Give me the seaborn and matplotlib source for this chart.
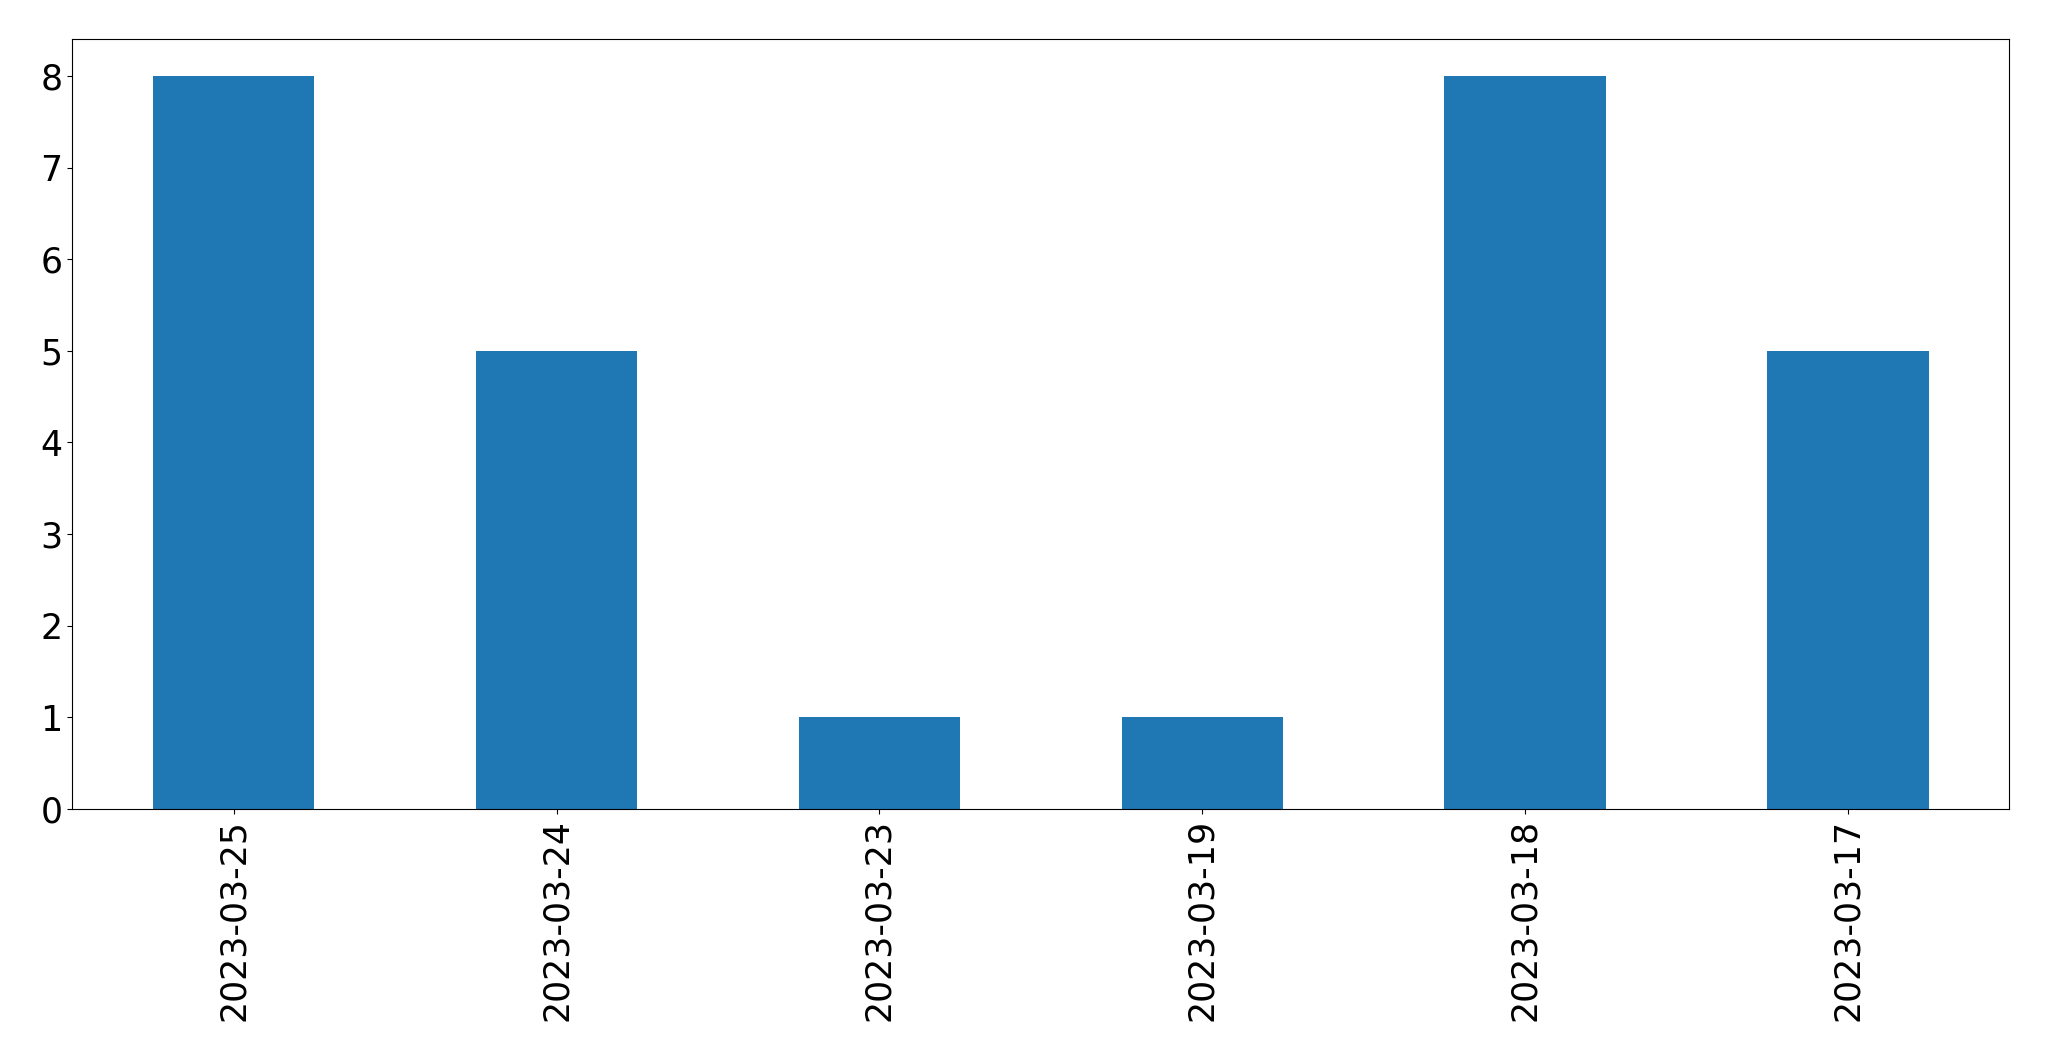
import pandas as pd
import seaborn as sns
import matplotlib
matplotlib.use("Agg")
import matplotlib.pyplot as plt

# Данные с графика
dates = ["2023-03-25", "2023-03-24", "2023-03-23", "2023-03-19", "2023-03-18", "2023-03-17"]
counts = [8, 5, 1, 1, 8, 5]

df = pd.DataFrame({"date": dates, "count": counts})

fig, ax = plt.subplots(figsize=(20.49, 10.61), dpi=100)
fig.subplots_adjust(left=72.3 / 2049, right=2009.3 / 2049, top=1 - 39.3 / 1061, bottom=1 - 809 / 1061)

sns.barplot(data=df, x="date", y="count", order=dates, color="#1f77b4",
            saturation=1, width=0.5, ax=ax)

ax.set_xlim(-0.5, len(dates) - 0.5)
ax.set_ylim(0, max(counts) * 1.05)
ax.set_xlabel("")
ax.set_ylabel("")
ax.tick_params(axis="both", labelsize=25)
ax.tick_params(axis="x", labelrotation=90)

fig.savefig("out.png", dpi=100)
